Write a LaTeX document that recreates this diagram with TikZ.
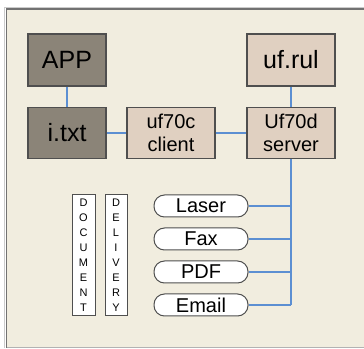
\documentclass[tikz,border=0pt]{standalone}
\usepackage{fontspec}
\setmainfont{Liberation Sans}
\definecolor{bgc}{HTML}{F1EDDF}
\definecolor{darkbox}{HTML}{8B8478}
\definecolor{lightbox}{HTML}{E0D0C1}
\definecolor{edge}{HTML}{4F4F4F}
\definecolor{wire}{HTML}{5C8FD2}
\begin{document}
\begin{tikzpicture}[x=1pt,y=1pt,
  box/.style={draw=edge,line width=1.2pt,inner sep=0pt,align=center},
  darkb/.style={box,fill=darkbox,minimum width=78pt,minimum height=52pt,font=\fontsize{25}{27}\selectfont},
  lightbig/.style={box,fill=lightbox,minimum width=88pt,minimum height=52pt,font=\fontsize{25}{27}\selectfont},
  lightsmall/.style={box,fill=lightbox,minimum width=88pt,minimum height=51pt,font=\fontsize{20}{23}\selectfont},
  vbox/.style={draw=edge,line width=1pt,fill=white,inner sep=0pt,minimum width=22pt,minimum height=121pt,align=center,font=\fontsize{11}{15}\selectfont},
  pill/.style={draw=edge,line width=1pt,fill=white,rounded corners=10.5pt,minimum width=94pt,minimum height=22pt,inner sep=0pt,font=\fontsize{20}{20}\selectfont},
  wireline/.style={draw=wire,line width=1.1pt}]
\useasboundingbox (0,0) rectangle (364,348);
\fill[bgc] (6.5,0.5) rectangle (364,339);
\draw[gray!60,line width=1pt] (6.5,0.5) -- (364,0.5);
\draw[edge!80,line width=1.6pt] (6.5,0.5) -- (6.5,339) -- (364,339);
\draw[gray!40,line width=0.6pt] (4.5,0.5) -- (4.5,341) -- (364,341);

\node[darkb] (app) at (67,288) {APP};
\node[darkb,minimum height=51pt] (itxt) at (67,215) {i.txt};
\node[lightsmall] (client) at (171,215) {uf70c\\client};
\node[lightsmall] (server) at (291,215) {Uf70d\\server};
\node[lightbig] (rul) at (291,288) {uf.rul};

\node[vbox,minimum width=23pt] (doc) at (83.5,92.5) {D\\O\\C\\U\\M\\E\\N\\T};
\node[vbox] (del) at (116,92.5) {D\\E\\L\\I\\V\\E\\R\\Y};

\node[pill] (laser) at (201,142) {Laser};
\node[pill] (fax) at (201,109) {Fax};
\node[pill] (pdf) at (201,76) {PDF};
\node[pill] (email) at (201,43) {Email};

\coordinate (trunk) at (server.south |- email.east);
\path[wireline] (app) -- (itxt);
\path[wireline] (itxt) -- (client);
\path[wireline] (client) -- (server);
\path[wireline] (rul) -- (server);
\path[wireline] (server.south) -- (trunk);
\path[wireline] (laser.east) -- (laser.east -| trunk);
\path[wireline] (fax.east) -- (fax.east -| trunk);
\path[wireline] (pdf.east) -- (pdf.east -| trunk);
\path[wireline] (email.east) -- (trunk);
\end{tikzpicture}
\end{document}
